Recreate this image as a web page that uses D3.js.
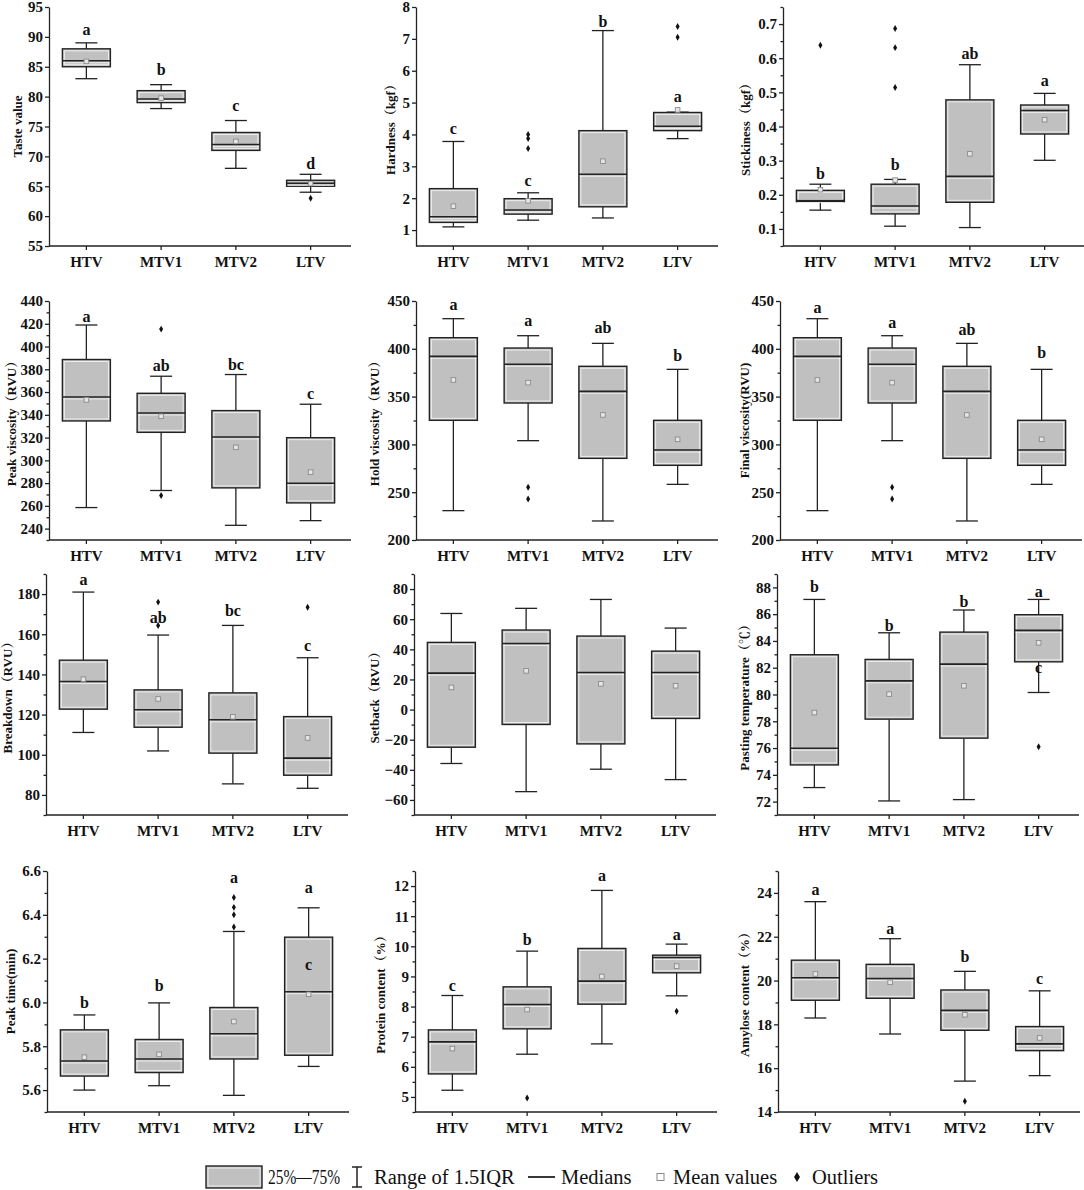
<!DOCTYPE html>
<html>
<head>
<meta charset="utf-8">
<script src="https://cdn.jsdelivr.net/npm/d3@7"></script>
<style>
  body { margin: 0; background: #fff; }
  svg { display: block; }
  .bp-text { font-family: "Times New Roman", "Liberation Serif", "Noto Serif CJK SC", "Noto Sans CJK SC", serif; fill: #111; }
  .bp-bold { font-weight: bold; }
  .bp-axis path, .bp-axis line { stroke: #222; stroke-width: 1.3; }
</style>
</head>
<body>
<div id="bp-container"></div>
<script>
const categories = ['HTV', 'MTV1', 'MTV2', 'LTV'];

// each box: [whisker low, q1, median, q3, whisker high]
const tasteBoxes = [[83, 85, 86, 88, 89], [78, 79, 79.6, 81, 82], [68, 71, 72, 74, 76], [64, 65, 65.5, 66, 67]];
const tasteMeans = [85.9, 79.75, 72.5, 65.45];
const tasteOutliers = [[], [], [], [63]];
const tasteLetters = [['a'], ['b'], ['c'], ['d']];
const tasteLetterAt = [[91.3], [84.5], [78.5], [68.9]];
const tasteTicks = [55, 60, 65, 70, 75, 80, 85, 90, 95];

const hardnessBoxes = [[1.10, 1.24, 1.42, 2.30, 3.78], [1.31, 1.50, 1.63, 1.985, 2.17], [1.38, 1.73, 2.75, 4.12, 7.26], [3.87, 4.12, 4.26, 4.69, 4.70]];
const hardnessMeans = [1.75, 1.92, 3.16, 4.77];
const hardnessOutliers = [[], [4.0, 3.87, 3.56], [], [7.39, 7.05]];
const hardnessLetters = [['c'], ['c'], ['b'], ['a']];
const hardnessLetterAt = [[4.2], [2.57], [7.55], [5.2]];
const hardnessTicks = [1, 2, 3, 4, 5, 6, 7, 8];

const stickinessBoxes = [[0.155, 0.180, 0.183, 0.213, 0.231], [0.108, 0.144, 0.167, 0.231, 0.245], [0.104, 0.178, 0.254, 0.478, 0.581], [0.301, 0.378, 0.447, 0.463, 0.497]];
const stickinessMeans = [0.215, 0.243, 0.320, 0.42];
const stickinessOutliers = [[0.638], [0.687, 0.631, 0.514], [], []];
const stickinessLetters = [['b'], ['b'], ['ab'], ['a']];
const stickinessLetterAt = [[0.262], [0.289], [0.613], [0.535]];
const stickinessTicks = [0.1, 0.2, 0.3, 0.4, 0.5, 0.6, 0.7];

const peakViscBoxes = [[258.5, 334.6, 355.7, 388.6, 418.9], [273.5, 324.6, 341.6, 358.9, 373.9], [242.9, 275.8, 320.5, 343.7, 375.4], [247.0, 262.6, 279.9, 319.9, 349.3]];
const peakViscMeans = [353.1, 338.7, 311.4, 289.6];
const peakViscOutliers = [[], [415.3, 269.1], [], []];
const peakViscLetters = [['a'], ['ab'], ['bc'], ['c']];
const peakViscLetterAt = [[426.8], [383], [384], [358.4]];
const peakViscTicks = [240, 260, 280, 300, 320, 340, 360, 380, 400, 420, 440];

const holdViscBoxes = [[230.7, 325.2, 392.1, 411.6, 431.5], [303.9, 343.3, 383.8, 400.8, 413.7], [219.9, 285.4, 355.5, 381.7, 405.7], [258.2, 278.1, 294.1, 325.2, 378.5]];
const holdViscMeans = [367.4, 364.6, 330.8, 305.3];
const holdViscOutliers = [[], [255.1, 242.9], [], []];
const holdViscLetters = [['a'], ['a'], ['ab'], ['b']];
const holdViscLetterAt = [[446.5], [429.8], [422.1], [393.5]];
const holdViscTicks = [200, 250, 300, 350, 400, 450];

const finalViscBoxes = [[230.7, 325.2, 392.1, 411.6, 431.5], [303.9, 343.3, 383.8, 400.8, 413.7], [219.9, 285.4, 355.5, 381.7, 405.7], [258.2, 278.1, 294.1, 325.2, 378.5]];
const finalViscMeans = [367.4, 364.6, 330.8, 305.3];
const finalViscOutliers = [[], [255.1, 242.9], [], []];
const finalViscLetters = [['a'], ['a'], ['ab'], ['b']];
const finalViscLetterAt = [[443.7], [427.7], [420.4], [396]];
const finalViscTicks = [200, 250, 300, 350, 400, 450];

const breakdownBoxes = [[111.1, 122.7, 136.5, 147.1, 181.0], [101.9, 113.7, 122.4, 132.3, 159.6], [85.5, 100.8, 117.4, 130.8, 164.4], [83.3, 89.8, 98.3, 119.0, 148.3]];
const breakdownMeans = [137.6, 127.8, 118.9, 108.4];
const breakdownOutliers = [[], [176.0, 164.4], [], [173.4]];
const breakdownLetters = [['a'], ['ab'], ['bc'], ['c']];
const breakdownLetterAt = [[187.1], [168.5], [171.9], [154.4]];
const breakdownTicks = [80, 100, 120, 140, 160, 180];

const setbackBoxes = [[-35.8, -25.0, 24.2, 44.6, 63.8], [-54.5, -9.9, 43.9, 52.8, 67.2], [-39.6, -22.8, 24.6, 48.8, 73.1], [-46.5, -5.9, 24.6, 38.8, 54.1]];
const setbackMeans = [14.7, 25.7, 17.1, 15.8];
const setbackOutliers = [[], [], [], []];
const setbackLetters = [[], [], [], []];
const setbackLetterAt = [[], [], [], []];
const setbackTicks = [-60, -40, -20, 0, 20, 40, 60, 80];

const pastingBoxes = [[73.05, 74.74, 75.99, 82.97, 87.1], [72.05, 78.16, 81.02, 82.62, 84.61], [72.15, 76.74, 82.27, 84.66, 86.31], [80.15, 82.44, 84.79, 85.96, 87.10]];
const pastingMeans = [78.65, 80.03, 80.65, 83.86];
const pastingOutliers = [[], [], [], [76.09]];
const pastingLetters = [['b'], ['b'], ['b'], ['a', 'c']];
const pastingLetterAt = [[88.1], [85.16], [86.95], [87.7, 82.0]];
const pastingTicks = [72, 74, 76, 78, 80, 82, 84, 86, 88];

const peakTimeBoxes = [[5.600, 5.664, 5.733, 5.875, 5.943], [5.620, 5.680, 5.742, 5.831, 5.998], [5.576, 5.742, 5.857, 5.977, 6.324], [5.708, 5.759, 6.049, 6.298, 6.432]];
const peakTimeMeans = [5.750, 5.763, 5.913, 6.037];
const peakTimeOutliers = [[], [], [6.479, 6.434, 6.400, 6.344], []];
const peakTimeLetters = [['b'], ['b'], ['a'], ['a', 'c']];
const peakTimeLetterAt = [[6.002], [6.076], [6.57], [6.525, 6.172]];
const peakTimeTicks = [5.6, 5.8, 6.0, 6.2, 6.4, 6.6];

const proteinBoxes = [[5.222, 5.764, 6.828, 7.226, 8.367], [6.418, 7.260, 8.068, 8.655, 9.840], [6.761, 8.079, 8.843, 9.929, 11.856], [8.356, 9.120, 9.630, 9.707, 10.073]];
const proteinMeans = [6.606, 7.902, 8.999, 9.342];
const proteinOutliers = [[], [4.967], [], [7.847]];
const proteinLetters = [['c'], ['b'], ['a'], ['a']];
const proteinLetterAt = [[8.69], [10.24], [12.34], [10.39]];
const proteinTicks = [5, 6, 7, 8, 9, 10, 11, 12];

const amyloseBoxes = [[18.29, 19.10, 20.13, 20.93, 23.60], [17.56, 19.19, 20.09, 20.74, 21.91], [15.41, 17.73, 18.64, 19.57, 20.42], [15.66, 16.80, 17.11, 17.90, 19.53]];
const amyloseMeans = [20.30, 19.92, 18.44, 17.38];
const amyloseOutliers = [[], [], [14.49], []];
const amyloseLetters = [['a'], ['a'], ['b'], ['c']];
const amyloseLetterAt = [[24.17], [22.37], [21.08], [20.12]];
const amyloseTicks = [14, 16, 18, 20, 22, 24];

const panels = [
    { title: 'Taste value', boxes: tasteBoxes, means: tasteMeans, outliers: tasteOutliers, letters: tasteLetters, letterAt: tasteLetterAt, ticks: tasteTicks, domain: [55, 95], minor: null, fmt: 'd' },
    { title: 'Hardness（kgf）', boxes: hardnessBoxes, means: hardnessMeans, outliers: hardnessOutliers, letters: hardnessLetters, letterAt: hardnessLetterAt, ticks: hardnessTicks, domain: [0.5, 8], minor: null, fmt: 'd' },
    { title: 'Stickiness（kgf）', boxes: stickinessBoxes, means: stickinessMeans, outliers: stickinessOutliers, letters: stickinessLetters, letterAt: stickinessLetterAt, ticks: stickinessTicks, domain: [0.05, 0.75], minor: 0.05, fmt: '.1f' },
    { title: 'Peak viscosity（RVU）', boxes: peakViscBoxes, means: peakViscMeans, outliers: peakViscOutliers, letters: peakViscLetters, letterAt: peakViscLetterAt, ticks: peakViscTicks, domain: [230, 440], minor: 10, fmt: 'd' },
    { title: 'Hold viscosity（RVU）', boxes: holdViscBoxes, means: holdViscMeans, outliers: holdViscOutliers, letters: holdViscLetters, letterAt: holdViscLetterAt, ticks: holdViscTicks, domain: [200, 450], minor: 25, fmt: 'd' },
    { title: 'Final viscosity(RVU)', boxes: finalViscBoxes, means: finalViscMeans, outliers: finalViscOutliers, letters: finalViscLetters, letterAt: finalViscLetterAt, ticks: finalViscTicks, domain: [200, 450], minor: 25, fmt: 'd' },
    { title: 'Breakdown（RVU）', boxes: breakdownBoxes, means: breakdownMeans, outliers: breakdownOutliers, letters: breakdownLetters, letterAt: breakdownLetterAt, ticks: breakdownTicks, domain: [70, 190], minor: 10, fmt: 'd' },
    { title: 'Setback（RVU）', boxes: setbackBoxes, means: setbackMeans, outliers: setbackOutliers, letters: setbackLetters, letterAt: setbackLetterAt, ticks: setbackTicks, domain: [-70, 90], minor: 10, fmt: 'd' },
    { title: 'Pasting temperature（℃）', boxes: pastingBoxes, means: pastingMeans, outliers: pastingOutliers, letters: pastingLetters, letterAt: pastingLetterAt, ticks: pastingTicks, domain: [71, 89], minor: 1, fmt: 'd' },
    { title: 'Peak time(min)', boxes: peakTimeBoxes, means: peakTimeMeans, outliers: peakTimeOutliers, letters: peakTimeLetters, letterAt: peakTimeLetterAt, ticks: peakTimeTicks, domain: [5.5, 6.6], minor: 0.1, fmt: '.1f' },
    { title: 'Protein content（%）', boxes: proteinBoxes, means: proteinMeans, outliers: proteinOutliers, letters: proteinLetters, letterAt: proteinLetterAt, ticks: proteinTicks, domain: [4.5, 12.5], minor: 0.5, fmt: 'd' },
    { title: 'Amylose content（%）', boxes: amyloseBoxes, means: amyloseMeans, outliers: amyloseOutliers, letters: amyloseLetters, letterAt: amyloseLetterAt, ticks: amyloseTicks, domain: [14, 25], minor: 1, fmt: 'd' }
];

// page layout of the 4x3 grid (pixels)
const rowTops = [7, 301, 574, 871];
const rowBottoms = [246, 540, 815, 1112];
const panelLefts = [49, 416, 783, 49, 416, 780, 46, 414, 777, 47, 415, 778];
const titleXs = [18, 391, 746, 12, 375, 745, 8, 375, 745, 11, 381, 745];

const plotWidth = 299;
const boxWidth = 48;
const capWidth = 22;
const boxFill = '#c0c0c0';
const lineColor = '#222';

function drawPanel (svg, panel, i) {
    const left = panelLefts[i];
    const top = rowTops[Math.floor(i / 3)];
    const bottom = rowBottoms[Math.floor(i / 3)];

    const y = d3.scaleLinear().domain(panel.domain).range([bottom, top]);
    const x = d3.scaleBand().domain(categories).range([left, left + plotWidth]).padding(0);
    const cx = (cat) => x(cat) + x.bandwidth() / 2;

    const g = svg.append('g').attr('class', 'bp-panel');

    // minor ticks first, under the main axis
    if (panel.minor) {
        const minorTicks = d3.range(panel.domain[0], panel.domain[1] + 1e-9, panel.minor)
            .map(v => +v.toFixed(4))
            .filter(v => !panel.ticks.some(t => Math.abs(t - v) < 1e-6));
        g.append('g')
            .attr('class', 'bp-axis')
            .attr('transform', `translate(${left},0)`)
            .call(d3.axisLeft(y).tickValues(minorTicks).tickSize(2.5).tickSizeOuter(0).tickFormat(''))
            .call(a => a.select('.domain').remove());
    }

    g.append('g')
        .attr('class', 'bp-axis')
        .attr('transform', `translate(${left},0)`)
        .call(d3.axisLeft(y).tickValues(panel.ticks).tickSize(4).tickSizeOuter(0).tickPadding(2).tickFormat(d3.format(panel.fmt)))
        .call(a => a.selectAll('text')
            .attr('class', 'bp-text bp-bold')
            .style('font-size', '15px'));

    g.append('g')
        .attr('class', 'bp-axis')
        .attr('transform', `translate(0,${bottom})`)
        .call(d3.axisBottom(x).tickSize(4).tickSizeOuter(0).tickPadding(6))
        .call(a => a.select('.domain').attr('d', `M${left},0H${left + plotWidth + 3}`))
        .call(a => a.selectAll('text')
            .attr('class', 'bp-text bp-bold')
            .style('font-size', '15px'));

    g.append('text')
        .attr('class', 'bp-text bp-bold')
        .attr('transform', `translate(${titleXs[i]},${(top + bottom) / 2}) rotate(-90)`)
        .attr('text-anchor', 'middle')
        .attr('dy', '0.3em')
        .style('font-size', '13px')
        .text(panel.title);

    const boxData = categories.map((cat, k) => ({
        cat: cat,
        box: panel.boxes[k],
        mean: panel.means[k],
        outliers: panel.outliers[k],
        letters: panel.letters[k].map((t, j) => ({ text: t, at: panel.letterAt[k][j] }))
    }));

    const groups = g.selectAll('.bp-box-group')
        .data(boxData)
        .enter()
        .append('g')
        .attr('class', 'bp-box-group')
        .attr('transform', d => `translate(${cx(d.cat)},0)`);

    groups.each(function (d) {
        const el = d3.select(this);
        const [lo, q1, med, q3, hi] = d.box;

        // whiskers
        el.append('line').attr('x1', 0).attr('x2', 0).attr('y1', y(hi)).attr('y2', y(q3))
            .attr('stroke', lineColor).attr('stroke-width', 1.3);
        el.append('line').attr('x1', 0).attr('x2', 0).attr('y1', y(q1)).attr('y2', y(lo))
            .attr('stroke', lineColor).attr('stroke-width', 1.3);
        [hi, lo].forEach(v => {
            el.append('line').attr('x1', -capWidth / 2).attr('x2', capWidth / 2).attr('y1', y(v)).attr('y2', y(v))
                .attr('stroke', lineColor).attr('stroke-width', 1.3);
        });

        // box
        el.append('rect')
            .attr('x', -boxWidth / 2)
            .attr('y', y(q3))
            .attr('width', boxWidth)
            .attr('height', y(q1) - y(q3))
            .attr('fill', boxFill)
            .attr('stroke', lineColor)
            .attr('stroke-width', 1.4);
        if (y(q1) - y(q3) > 6) {
            el.append('rect')
                .attr('x', -boxWidth / 2 + 2)
                .attr('y', y(q3) + 2)
                .attr('width', boxWidth - 4)
                .attr('height', y(q1) - y(q3) - 4)
                .attr('fill', 'none')
                .attr('stroke', '#f2f2f2')
                .attr('stroke-width', 0.9);
        }

        // median
        el.append('line').attr('x1', -boxWidth / 2 + 1).attr('x2', boxWidth / 2 - 1)
            .attr('y1', y(med) + 2).attr('y2', y(med) + 2)
            .attr('stroke', '#f2f2f2').attr('stroke-width', 0.9);
        el.append('line').attr('x1', -boxWidth / 2).attr('x2', boxWidth / 2)
            .attr('y1', y(med)).attr('y2', y(med))
            .attr('stroke', lineColor).attr('stroke-width', 1.6);

        // mean
        el.append('rect')
            .attr('x', -2.3).attr('y', y(d.mean) - 2.3)
            .attr('width', 4.6).attr('height', 4.6)
            .attr('fill', '#e6e6e6').attr('stroke', '#8a8a8a').attr('stroke-width', 0.9);

        // outliers
        el.selectAll('.bp-outlier')
            .data(d.outliers)
            .enter()
            .append('path')
            .attr('class', 'bp-outlier')
            .attr('d', d3.symbol(d3.symbolDiamond, 14))
            .attr('transform', v => `translate(0,${y(v)})`)
            .attr('fill', '#111');

        // significance letters
        el.selectAll('.bp-letter')
            .data(d.letters)
            .enter()
            .append('text')
            .attr('class', 'bp-text bp-bold bp-letter')
            .attr('y', l => y(l.at))
            .attr('dy', '0.35em')
            .attr('text-anchor', 'middle')
            .style('font-size', '16px')
            .text(l => l.text);
    });
}

function drawLegend (svg) {
    const g = svg.append('g').attr('class', 'bp-legend');
    const cy = 1177;

    g.append('rect').attr('x', 206).attr('y', cy - 11).attr('width', 56).attr('height', 22)
        .attr('fill', boxFill).attr('stroke', lineColor).attr('stroke-width', 1.4);
    g.append('rect').attr('x', 208).attr('y', cy - 9).attr('width', 52).attr('height', 18)
        .attr('fill', 'none').attr('stroke', '#f2f2f2').attr('stroke-width', 0.9);

    // range I-beam
    g.append('line').attr('x1', 357).attr('x2', 357).attr('y1', cy - 10).attr('y2', cy + 10)
        .attr('stroke', lineColor).attr('stroke-width', 1.5);
    [cy - 10, cy + 10].forEach(v => {
        g.append('line').attr('x1', 352).attr('x2', 362).attr('y1', v).attr('y2', v)
            .attr('stroke', lineColor).attr('stroke-width', 1.5);
    });

    g.append('line').attr('x1', 528).attr('x2', 555).attr('y1', cy).attr('y2', cy)
        .attr('stroke', lineColor).attr('stroke-width', 1.8);

    g.append('rect').attr('x', 657).attr('y', cy - 3.5).attr('width', 7).attr('height', 7)
        .attr('fill', '#fff').attr('stroke', '#8a8a8a').attr('stroke-width', 1);

    g.append('path').attr('d', d3.symbol(d3.symbolDiamond, 30))
        .attr('transform', `translate(797,${cy})`).attr('fill', '#111');

    const labels = [
        { x: 268, text: '25%—75%', width: 72 },
        { x: 374, text: 'Range of 1.5IQR', width: null },
        { x: 561, text: 'Medians', width: null },
        { x: 673, text: 'Mean values', width: null },
        { x: 812, text: 'Outliers', width: null }
    ];
    g.selectAll('.bp-legend-text')
        .data(labels)
        .enter()
        .append('text')
        .attr('class', 'bp-text bp-legend-text')
        .attr('x', d => d.x)
        .attr('y', cy)
        .attr('dy', '0.35em')
        .attr('textLength', d => d.width)
        .attr('lengthAdjust', d => d.width ? 'spacingAndGlyphs' : null)
        .style('font-size', '20.5px')
        .text(d => d.text);
}

function renderChart () {
    const svg = d3.select('#bp-container')
        .append('svg')
        .attr('width', 1084)
        .attr('height', 1190);

    panels.forEach((panel, i) => drawPanel(svg, panel, i));
    drawLegend(svg);
}

renderChart();
</script>
</body>
</html>
